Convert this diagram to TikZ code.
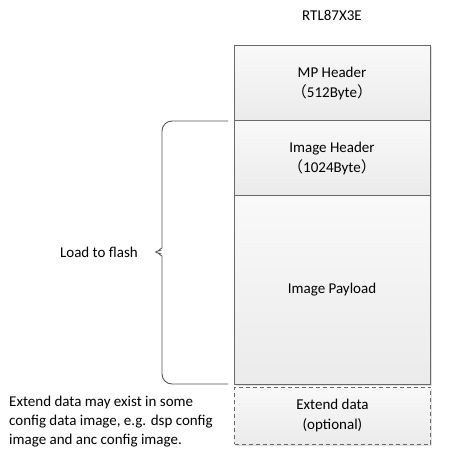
\documentclass[tikz,border=0pt]{standalone}
\usepackage{fontspec}
\setmainfont{Carlito}
\newfontfamily\cjk{Noto Sans CJK SC}
\usetikzlibrary{shadows}
\definecolor{bordergray}{RGB}{105,105,105}
\definecolor{bracegray}{RGB}{85,85,85}
\definecolor{filltop}{RGB}{249,249,249}
\definecolor{fillbot}{RGB}{235,235,235}
\begin{document}
\begin{tikzpicture}[x=1pt,y=-1pt,
  font=\fontsize{15}{19.5}\selectfont,
  memblock/.style={draw=bordergray, line width=1pt, top color=filltop, bottom color=fillbot,
    minimum width=196pt, inner sep=0pt, align=center,
    drop shadow={shadow xshift=1.5pt, shadow yshift=-1.5pt, fill=black, opacity=0.12}},
  optblock/.style={memblock, dashed, dash pattern=on 4pt off 3pt},
  lbl/.style={inner sep=0pt, align=left}]
\useasboundingbox (0,0) rectangle (474,465);
\node[lbl] (title) at (332,15) {RTL87X3E};
\node[memblock, minimum height=75pt] (mp) at (332,83.5) {MP Header\\[0pt]{\cjk （}512Byte{\cjk ）}};
\node[memblock, minimum height=75pt] (ih) at (332,158.5) {Image Header\\[0pt]{\cjk （}1024Byte{\cjk ）}};
\node[memblock, minimum height=188pt] (pl) at (332,290) {Image Payload};
\node[optblock, minimum height=57pt] (ext) at (332.5,415.5) {Extend data\\(optional)};
\coordinate (btop) at (228,121);
\coordinate (bbot) at (228,384);
\coordinate (btip) at (150,252);
\draw[bracegray, line width=0.9pt, rounded corners=10pt]
  (btop) -- (162,121) -- (162,238)
  .. controls (162,248) and (157,251) .. (btip)
  .. controls (157,253) and (162,256) .. (162,266) -- (162,384) -- (bbot);
\node[lbl, anchor=east] (load) at (138,252) {Load to flash};
\node[lbl, anchor=west, font=\fontsize{15}{19}\selectfont] (note) at (9,422)
  {Extend data may exist in some\\config data image, e.g. dsp config\\image and anc config image.};
\end{tikzpicture}
\end{document}
